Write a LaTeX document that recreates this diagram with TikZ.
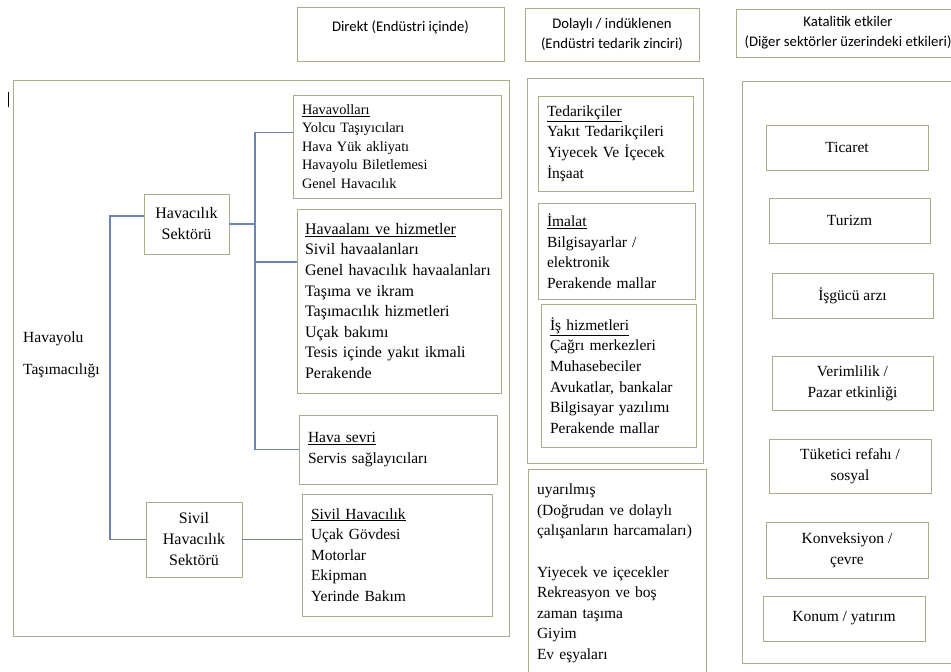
\documentclass[tikz,border=0pt]{standalone}
\usepackage{fontspec}
\setmainfont{Liberation Serif}
\newfontfamily\headfont{Carlito}
\definecolor{boxgreen}{RGB}{163,176,138}
\definecolor{linkblue}{RGB}{106,132,184}

\begin{document}
\begin{tikzpicture}[x=1pt,y=-1pt,
		framebox/.style={draw=boxgreen,line width=1pt,anchor=north west,inner sep=0pt,outer sep=0pt},
		headbox/.style={framebox,align=center,font=\headfont\fontsize{14.7}{20}\selectfont},
		listbox/.style={framebox,align=left,inner xsep=9pt,font=\fontsize{15.5}{20.6}\selectfont},
		effectbox/.style={framebox,align=center,font=\fontsize{15.5}{21}\selectfont},
		sectbox/.style={framebox,align=center,font=\fontsize{16}{21}\selectfont},
		linkline/.style={draw=linkblue,line width=1.2pt}]
		\useasboundingbox (0,0) rectangle (951,672);
		\clip (0,0) rectangle (951,672);

		% headers
		\node[headbox,minimum width=207pt,minimum height=54pt] (direkt) at (297,7) {Direkt (Endüstri içinde)\\[-5pt]~};
		\node[headbox,minimum width=174pt,minimum height=53pt] (dolayli) at (525,8) {Dolaylı / indüklenen\\(Endüstri tedarik zinciri)};
		\node[headbox,minimum width=224pt,minimum height=48pt] (katalitik) at (736,9) {Katalitik etkiler\\(Diğer sektörler üzerindeki etkileri)};

		% outer frames
		\node[framebox,minimum width=496pt,minimum height=556pt] (solcerceve) at (13,80) {};
		\node[framebox,minimum width=176pt,minimum height=385pt] (ortacerceve) at (527,78) {};
		\node[framebox,minimum width=220pt,minimum height=582pt] (sagcerceve) at (742,81) {};

		% cursor mark
		\draw[line width=0.9pt] (8,92) -- (8,107);

		% left side
		\node[anchor=west,align=left,inner sep=0pt,font=\fontsize{15.5}{20.6}\selectfont] (havayolu) at (23,354.5) {Havayolu\\[11pt]Taşımacılığı};
		\node[sectbox,minimum width=85pt,minimum height=60pt] (havacilik) at (144,194) {Havacılık\\Sektörü};
		\node[sectbox,minimum width=96pt,minimum height=75pt] (sivil) at (146,502) {Sivil\\Havacılık\\Sektörü};

		% direct lists
		\node[listbox,minimum width=208pt,minimum height=103pt,text width=190pt,font=\fontsize{14.3}{18.6}\selectfont] (havayollari) at (293,95) {\underline{Havavolları}\\Yolcu Taşıyıcıları\\Hava Yük akliyatı\\Havayolu Biletlemesi\\Genel Havacılık};
		\node[listbox,minimum width=204pt,minimum height=184pt,text width=188pt,inner xsep=8pt,font=\fontsize{16}{20.6}\selectfont] (havaalani) at (297,209) {\underline{Havaalanı ve hizmetler}\\Sivil havaalanları\\Genel havacılık havaalanları\\Taşıma ve ikram\\Taşımacılık hizmetleri\\Uçak bakımı\\Tesis içinde yakıt ikmali\\Perakende};
		\node[listbox,minimum width=198pt,minimum height=69pt,text width=180pt] (havaseyri) at (299,415) {\underline{Hava sevri}\\Servis sağlayıcıları};
		\node[listbox,minimum width=190pt,minimum height=122pt,text width=172pt] (sivilliste) at (302,494) {\underline{Sivil Havacılık}\\Uçak Gövdesi\\Motorlar\\Ekipman\\Yerinde Bakım};

		% connectors
		\coordinate (govde) at (110,380);
		\coordinate (dal) at (255,224);
		\draw[linkline] ([yshift=8pt]havacilik.west) -| (govde) |- (sivil.west);
		\draw[linkline] (havacilik.east) -- (dal);
		\draw[linkline] ([yshift=14pt]havayollari.west) -| (dal) |- (havaseyri.west);
		\draw[linkline] ([yshift=39pt]havaalani.west) -| (dal);
		\draw[linkline] (sivil.east) -- (sivil.east -| sivilliste.west);

		% indirect lists
		\node[listbox,minimum width=155pt,minimum height=95pt,text width=137pt] (tedarik) at (538,96) {\underline{Tedarikçiler}\\Yakıt Tedarikçileri\\Yiyecek Ve İçecek\\İnşaat};
		\node[listbox,minimum width=157pt,minimum height=96pt,text width=139pt] (imalat) at (538,203) {\underline{İmalat}\\Bilgisayarlar /\\elektronik\\Perakende mallar};
		\node[listbox,minimum width=155pt,minimum height=143pt,text width=137pt] (ishizmet) at (541,304) {\underline{İş hizmetleri}\\Çağrı merkezleri\\Muhasebeciler\\Avukatlar, bankalar\\Bilgisayar yazılımı\\Perakende mallar};
		\node[listbox,minimum width=178pt,text width=160pt,inner ysep=15pt] (uyarilmis) at (528,469) {uyarılmış\\(Doğrudan ve dolaylı\\çalışanların harcamaları)\\[20.6pt]Yiyecek ve içecekler\\Rekreasyon ve boş\\zaman taşıma\\Giyim\\Ev eşyaları};

		% catalytic effects
		\node[effectbox,minimum width=162pt,minimum height=45pt] (ticaret) at (766,125) {Ticaret};
		\node[effectbox,minimum width=161pt,minimum height=45pt] (turizm) at (769,198) {Turizm};
		\node[effectbox,minimum width=161pt,minimum height=45pt] (isgucu) at (772,273) {İşgücü arzı};
		\node[effectbox,minimum width=161pt,minimum height=54pt] (verim) at (772,356) {Verimlilik /\\Pazar etkinliği};
		\node[effectbox,minimum width=162pt,minimum height=54pt] (refah) at (769,439) {Tüketici refahı /\\sosyal};
		\node[effectbox,minimum width=162pt,minimum height=56pt] (cevre) at (766,522) {Konveksiyon /\\çevre};
		\node[effectbox,minimum width=162pt,minimum height=45pt] (konum) at (763,596) {Konum / yatırım};
	\end{tikzpicture}
\end{document}
